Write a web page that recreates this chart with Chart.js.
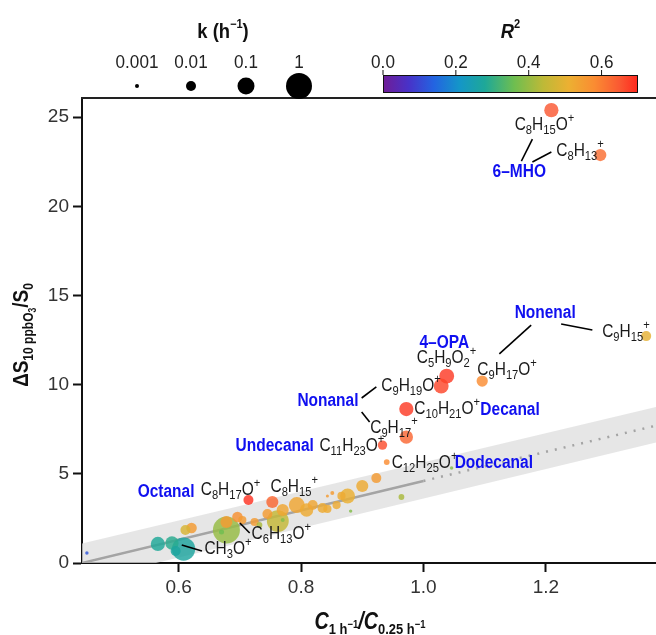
<!DOCTYPE html>
<html>
<head>
<meta charset="utf-8">
<script src="https://cdn.jsdelivr.net/npm/chart.js@4.4.0/dist/chart.umd.min.js"></script>
<style>
    html, body { margin: 0; padding: 0; background: #fff; }
    #wrap { width: 656px; height: 635px; }
</style>
</head>
<body>
<div id="wrap"><canvas id="ozone-chart" width="656" height="635"></canvas></div>
<script>
// Ions (empty name = unlabelled point)
const ions = [
    'C8H15O+', 'C8H13+', 'C9H15+', 'C9H17O+', 'C5H9O2+', 'C9H19O+', 'C10H21O+',
    'C9H17+', 'C11H23O+', 'C12H25O+', 'C8H17O+', 'C8H15+', 'C6H13O+', 'CH3O+',
    '', '', '', '', '', '', '', '', '', '', '', '', '', '', '', '', '', '', '', '',
    '', '', '', '', '', '', '', '', '', '', ''
];
// C(1 h-1) / C(0.25 h-1)
const ratioX = [
    1.209, 1.289, 1.364, 1.096, 1.038, 1.029, 0.972,
    0.972, 0.933, 0.940, 0.714, 0.753, 0.696, 0.608,
    1.046, 0.450, 0.566, 0.589, 0.595, 0.611, 0.621, 0.678, 0.670, 0.678,
    0.704, 0.732, 0.762, 0.770, 0.745, 0.770, 0.793, 0.809, 0.819, 0.835,
    0.843, 0.851, 0.858, 0.866, 0.876, 0.900, 0.923, 0.881, 0.964, 0.843, 0.724
];
// Delta S(10 ppb O3) / S0
const deltaS = [
    25.39, 22.87, 12.72, 10.20, 10.48, 9.92, 8.63,
    7.06, 6.61, 5.66, 3.53, 3.42, 2.58, 0.78,
    5.33, 0.56, 1.07, 1.12, 0.67, 1.85, 1.96, 1.85, 1.74, 2.30,
    2.41, 2.13, 2.35, 2.41, 2.75, 2.97, 3.25, 2.97, 3.25, 3.08,
    3.76, 3.92, 3.25, 3.76, 3.76, 4.32, 4.76, 2.91, 3.70, 3.03, 2.30
];
// k (h-1)
const kRate = [
    0.04, 0.02, 0.01, 0.015, 0.05, 0.05, 0.04,
    0.03, 0.008, 0.002, 0.01, 0.02, 0.012, 0.5,
    0.0008, 0.0008, 0.04, 0.03, 0.01, 0.01, 0.012, 1.3, 0.0015, 0.02,
    0.005, 0.002, 0.35, 0.001, 0.01, 0.02, 0.07, 0.03, 0.01, 0.01,
    0.0007, 0.001, 0.005, 0.005, 0.05, 0.02, 0.01, 0.0008, 0.002, 0.005, 0.005
];
// R^2
const rSquared = [
    0.65, 0.62, 0.50, 0.58, 0.68, 0.67, 0.68,
    0.63, 0.66, 0.58, 0.69, 0.63, 0.57, 0.27,
    0.38, 0.12, 0.28, 0.29, 0.27, 0.48, 0.55, 0.40, 0.36, 0.55,
    0.55, 0.42, 0.45, 0.38, 0.55, 0.53, 0.53, 0.52, 0.53, 0.52,
    0.55, 0.55, 0.52, 0.52, 0.51, 0.52, 0.55, 0.38, 0.42, 0.52, 0.55
];

// Fit line and its band
const fitX = [0.442, 1.0];
const fitY = [0.0, 4.6];
const extX = [1.0, 1.38];
const extY = [4.6, 7.7];
const bandX = [0.442, 1.38];
const bandLow = [-1.0, 6.75];
const bandHigh = [1.1, 8.75];

const xTicks = [0.6, 0.8, 1.0, 1.2];
const yTicks = [0, 5, 10, 15, 20, 25];
const kLegend = [0.001, 0.01, 0.1, 1];
const r2Ticks = [0.0, 0.2, 0.4, 0.6];
const r2Max = 0.7;

// Label layout (data coordinates of text left / middle)
const formulaLabels = [
    ['C_8H_15O^+', 1.149, 24.55],
    ['C_8H_13^+', 1.217, 23.09],
    ['C_9H_15^+', 1.292, 12.95],
    ['C_9H_17O^+', 1.088, 10.82],
    ['C_5H_9O_2^+', 0.989, 11.49],
    ['C_9H_19O^+', 0.931, 9.92],
    ['C_9H_17^+', 0.913, 7.57],
    ['C_10H_21O^+', 0.985, 8.63],
    ['C_11H_23O^+', 0.830, 6.56],
    ['C_12H_25O^+', 0.948, 5.61],
    ['C_8H_17O^+', 0.636, 4.09],
    ['C_8H_15^+', 0.750, 4.26],
    ['C_6H_13O^+', 0.719, 1.63],
    ['CH_3O^+', 0.642, 0.78]
];
const compoundLabels = [
    ['6\u2013MHO', 1.113, 21.92],
    ['Nonenal', 1.149, 14.01],
    ['4\u2013OPA', 0.9935, 12.33],
    ['Nonanal', 0.794, 9.08],
    ['Decanal', 1.093, 8.58],
    ['Undecanal', 0.693, 6.56],
    ['Dodecanal', 1.051, 5.61],
    ['Octanal', 0.533, 3.98]
];
const leaderLines = [
    [1.178, 23.77, 1.160, 22.53],
    [1.209, 23.04, 1.178, 22.48],
    [1.225, 13.40, 1.276, 13.06],
    [1.176, 13.34, 1.124, 11.72],
    [0.899, 9.25, 0.923, 9.87],
    [0.899, 8.46, 0.912, 7.90],
    [0.700, 2.24, 0.716, 1.68],
    [0.605, 1.01, 0.638, 0.67]
];

const SANS = '"Liberation Sans", Arial, Helvetica, sans-serif';
const SQUEEZE = 0.86;   // horizontal squeeze for label text

// Colour map for R^2 (0 .. 0.7)
const R2_STOPS = [
    [0.00, [112, 28, 150]],
    [0.07, [72, 50, 200]],
    [0.14, [35, 100, 225]],
    [0.21, [20, 150, 200]],
    [0.28, [30, 168, 152]],
    [0.36, [110, 190, 80]],
    [0.44, [190, 185, 55]],
    [0.51, [236, 176, 50]],
    [0.58, [250, 140, 50]],
    [0.65, [250, 88, 50]],
    [0.70, [255, 40, 30]]
];

function r2Color(v, alpha) {
    v = Math.max(0, Math.min(r2Max, v));
    let i = 0;
    while (i < R2_STOPS.length - 2 && v > R2_STOPS[i + 1][0]) i++;
    const [v0, c0] = R2_STOPS[i];
    const [v1, c1] = R2_STOPS[i + 1];
    const t = (v - v0) / (v1 - v0);
    const c = c0.map((a, j) => Math.round(a + (c1[j] - a) * t));
    return `rgba(${c[0]},${c[1]},${c[2]},${alpha})`;
}

// Point radius from k (log scale)
function kRadius(k) {
    const lk = Math.log10(k);
    const pts = [[-3, 2], [-2, 5], [-1, 8.5], [0, 13]];
    if (lk <= -3) return Math.max(1.2, 2 + (lk + 3) * 3);
    if (lk >= 0) return 13 + lk * 4.5;
    for (let i = 0; i < 3; i++) {
        if (lk <= pts[i + 1][0]) {
            const t = (lk - pts[i][0]) / (pts[i + 1][0] - pts[i][0]);
            return pts[i][1] + (pts[i + 1][1] - pts[i][1]) * t;
        }
    }
    return 13;
}

// Rich text: parts [{t, font, dy}], hs = horizontal squeeze
function drawRich(ctx, parts, x, y, align, hs = 1) {
    let w = 0;
    parts.forEach(p => { ctx.font = p.font; p.w = ctx.measureText(p.t).width; w += p.w; });
    const sw = w * hs;
    const x0 = align === 'center' ? x - sw / 2 : (align === 'right' ? x - sw : x);
    ctx.save();
    ctx.translate(x0, y);
    ctx.scale(hs, 1);
    ctx.textAlign = 'left';
    let cx = 0;
    parts.forEach(p => {
        ctx.font = p.font;
        ctx.fillText(p.t, cx, p.dy || 0);
        cx += p.w;
    });
    ctx.restore();
    return sw;
}

// "C_8H_15O^+" -> rich parts
function formulaParts(str) {
    const main = `18px ${SANS}`;
    const small = `13px ${SANS}`;
    const parts = [];
    let buf = '';
    for (let i = 0; i < str.length; i++) {
        const ch = str[i];
        if (ch === '_' || ch === '^') {
            if (buf) { parts.push({ t: buf, font: main }); buf = ''; }
            let s = '';
            if (ch === '_') {
                while (i + 1 < str.length && /\d/.test(str[i + 1])) s += str[++i];
                parts.push({ t: s, font: small, dy: 5 });
            } else {
                s = str[++i];
                parts.push({ t: s, font: small, dy: -7 });
            }
        } else {
            buf += ch;
        }
    }
    if (buf) parts.push({ t: buf, font: main });
    return parts;
}

const overlayPlugin = {
    id: 'overlay',
    afterDatasetsDraw(chart) {
        const ctx = chart.ctx;
        const xs = chart.scales.x;
        const ys = chart.scales.y;
        ctx.save();
        // leader lines
        ctx.strokeStyle = '#000';
        ctx.lineWidth = 1.6;
        leaderLines.forEach(l => {
            ctx.beginPath();
            ctx.moveTo(xs.getPixelForValue(l[0]), ys.getPixelForValue(l[1]));
            ctx.lineTo(xs.getPixelForValue(l[2]), ys.getPixelForValue(l[3]));
            ctx.stroke();
        });
        ctx.textBaseline = 'middle';
        ctx.fillStyle = '#1a1a1a';
        formulaLabels.forEach(f => {
            drawRich(ctx, formulaParts(f[0]), xs.getPixelForValue(f[1]), ys.getPixelForValue(f[2]), 'left', SQUEEZE);
        });
        ctx.fillStyle = '#1010f0';
        compoundLabels.forEach(c => {
            drawRich(ctx, [{ t: c[0], font: `bold 18px ${SANS}` }],
                xs.getPixelForValue(c[1]), ys.getPixelForValue(c[2]), 'left', SQUEEZE);
        });
        ctx.restore();
    },
    afterDraw(chart) {
        const ctx = chart.ctx;
        const area = chart.chartArea;
        ctx.save();

        // top frame line
        ctx.strokeStyle = '#222';
        ctx.lineWidth = 2;
        ctx.beginPath();
        ctx.moveTo(area.left - 1, area.top);
        ctx.lineTo(area.right, area.top);
        ctx.stroke();

        ctx.textBaseline = 'middle';
        ctx.fillStyle = '#111';

        // k legend
        drawRich(ctx, [
            { t: 'k (h', font: `bold 20px ${SANS}` },
            { t: '\u22121', font: `bold 12px ${SANS}`, dy: -7 },
            { t: ')', font: `bold 20px ${SANS}` }
        ], 223, 32, 'center', 0.92);
        const kxs = [137, 191, 246, 299];
        kLegend.forEach((k, i) => {
            ctx.fillStyle = '#222';
            drawRich(ctx, [{ t: String(k), font: `19px ${SANS}` }], kxs[i], 63, 'center', 0.9);
            ctx.fillStyle = '#000';
            ctx.beginPath();
            ctx.arc(kxs[i], 86, kRadius(k), 0, Math.PI * 2);
            ctx.fill();
        });

        // colour bar
        const cbL = 383, cbR = 638, cbT = 75, cbB = 93;
        const grad = ctx.createLinearGradient(cbL, 0, cbR, 0);
        R2_STOPS.forEach(s => grad.addColorStop(s[0] / r2Max, r2Color(s[0], 1)));
        ctx.fillStyle = grad;
        ctx.fillRect(cbL, cbT, cbR - cbL, cbB - cbT);
        ctx.strokeStyle = '#111';
        ctx.lineWidth = 1;
        ctx.strokeRect(cbL + 0.5, cbT + 0.5, cbR - cbL - 1, cbB - cbT - 1);
        ctx.fillStyle = '#222';
        r2Ticks.forEach(v => {
            const px = cbL + (cbR - cbL) * v / r2Max;
            ctx.beginPath();
            ctx.moveTo(px, cbT - 5);
            ctx.lineTo(px, cbT);
            ctx.stroke();
            drawRich(ctx, [{ t: v.toFixed(1), font: `19px ${SANS}` }], px, 63, 'center', 0.9);
        });
        ctx.fillStyle = '#111';
        drawRich(ctx, [
            { t: 'R', font: `italic bold 20px ${SANS}` },
            { t: '2', font: `bold 12px ${SANS}`, dy: -7 }
        ], (cbL + cbR) / 2, 32, 'center', 0.92);

        // y axis title
        ctx.save();
        ctx.translate(22, 335);
        ctx.rotate(-Math.PI / 2);
        drawRich(ctx, [
            { t: '\u0394S', font: `bold 22px ${SANS}` },
            { t: '10 ppbO', font: `bold 14px ${SANS}`, dy: 7 },
            { t: '3', font: `bold 10px ${SANS}`, dy: 11 },
            { t: '/S', font: `bold 22px ${SANS}` },
            { t: '0', font: `bold 14px ${SANS}`, dy: 7 }
        ], 0, 0, 'center', SQUEEZE);
        ctx.restore();

        // x axis title
        drawRich(ctx, [
            { t: 'C', font: `italic bold 23px ${SANS}` },
            { t: '1 h', font: `bold 15px ${SANS}`, dy: 7 },
            { t: '\u22121', font: `bold 11px ${SANS}`, dy: 2 },
            { t: '/C', font: `italic bold 23px ${SANS}` },
            { t: '0.25 h', font: `bold 15px ${SANS}`, dy: 7 },
            { t: '\u22121', font: `bold 11px ${SANS}`, dy: 2 }
        ], 370, 623, 'center', SQUEEZE);

        ctx.restore();
    }
};

// Build point data, large points first so small ones stay visible
const order = ions.map((_, i) => i).sort((a, b) => kRate[b] - kRate[a]);
const pointData = order.map(i => ({ x: ratioX[i], y: deltaS[i], k: kRate[i], r2: rSquared[i], ion: ions[i] }));

const axisFont = { family: SANS, size: 19 };

new Chart(document.getElementById('ozone-chart'), {
    type: 'scatter',
    data: {
        datasets: [
            {
                label: 'ions',
                data: pointData,
                pointRadius: c => kRadius(c.raw.k),
                pointBackgroundColor: c => r2Color(c.raw.r2, 0.82),
                pointBorderWidth: 0
            },
            {
                label: 'fit',
                type: 'line',
                data: fitX.map((x, i) => ({ x, y: fitY[i] })),
                borderColor: '#a4a4a4',
                borderWidth: 2.5,
                pointRadius: 0,
                fill: false
            },
            {
                label: 'fit extension',
                type: 'line',
                data: extX.map((x, i) => ({ x, y: extY[i] })),
                borderColor: '#a4a4a4',
                borderWidth: 2.5,
                borderDash: [2, 7],
                pointRadius: 0,
                fill: false
            },
            {
                label: 'band high',
                type: 'line',
                data: bandX.map((x, i) => ({ x, y: bandHigh[i] })),
                borderWidth: 0,
                borderColor: 'rgba(0,0,0,0)',
                pointRadius: 0,
                backgroundColor: 'rgba(222,222,222,0.75)',
                fill: { target: 4 }
            },
            {
                label: 'band low',
                type: 'line',
                data: bandX.map((x, i) => ({ x, y: bandLow[i] })),
                borderWidth: 0,
                borderColor: 'rgba(0,0,0,0)',
                pointRadius: 0,
                fill: false
            }
        ]
    },
    options: {
        responsive: false,
        devicePixelRatio: 1,
        animation: false,
        layout: { autoPadding: false, padding: { top: 98, right: 0, left: 0, bottom: 0 } },
        plugins: {
            legend: { display: false },
            tooltip: { enabled: false }
        },
        scales: {
            x: {
                type: 'linear',
                min: 0.442,
                max: 1.38,
                afterBuildTicks: s => { s.ticks = xTicks.map(v => ({ value: v })); },
                afterFit: s => { s.height = 72; s.paddingLeft = 0; s.paddingRight = 0; },
                ticks: {
                    font: axisFont,
                    color: '#333',
                    padding: 4,
                    maxRotation: 0,
                    callback: v => Number(v).toFixed(1)
                },
                grid: {
                    drawOnChartArea: false,
                    tickLength: 9,
                    tickWidth: 2,
                    tickColor: '#111'
                },
                border: { display: true, color: '#111', width: 2 }
            },
            y: {
                type: 'linear',
                min: 0,
                max: 26.07,
                afterBuildTicks: s => { s.ticks = yTicks.map(v => ({ value: v })); },
                afterFit: s => { s.width = 82; s.paddingTop = 0; s.paddingBottom = 0; },
                ticks: {
                    font: axisFont,
                    color: '#333',
                    padding: 4,
                    callback: v => String(v)
                },
                grid: {
                    drawOnChartArea: false,
                    tickLength: 9,
                    tickWidth: 2,
                    tickColor: '#111'
                },
                border: { display: true, color: '#111', width: 2 }
            }
        }
    },
    plugins: [overlayPlugin]
});
</script>
</body>
</html>
